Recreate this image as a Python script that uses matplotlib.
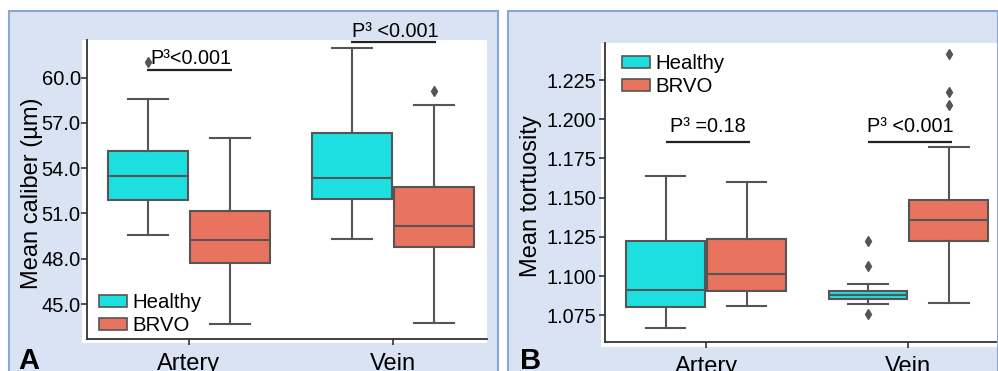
import matplotlib
matplotlib.use("Agg")
import matplotlib.pyplot as plt
from matplotlib.patches import Rectangle, Patch
import numpy as np

plt.rcParams['font.family'] = ['Liberation Sans', 'DejaVu Sans']

# ---------------- data ----------------
categories = ['Artery', 'Vein']
groups = ['Healthy', 'BRVO']

# Panel A: mean caliber (µm)
healthy_cal_whislo = [49.56, 49.29]
healthy_cal_q1 = [51.90, 51.96]
healthy_cal_med = [53.51, 53.37]
healthy_cal_q3 = [55.16, 56.36]
healthy_cal_whishi = [58.57, 61.99]
healthy_cal_fliers = [[61.02], []]

brvo_cal_whislo = [43.68, 43.72]
brvo_cal_q1 = [47.70, 48.76]
brvo_cal_med = [49.24, 50.19]
brvo_cal_q3 = [51.19, 52.74]
brvo_cal_whishi = [56.00, 58.17]
brvo_cal_fliers = [[], [59.14]]

# Panel B: mean tortuosity
healthy_tor_whislo = [1.0667, 1.0820]
healthy_tor_q1 = [1.0801, 1.0852]
healthy_tor_med = [1.0913, 1.0882]
healthy_tor_q3 = [1.1222, 1.0907]
healthy_tor_whishi = [1.1638, 1.0950]
healthy_tor_fliers = [[], [1.1226, 1.1066, 1.0758]]

brvo_tor_whislo = [1.0811, 1.0831]
brvo_tor_q1 = [1.0907, 1.1222]
brvo_tor_med = [1.1013, 1.1356]
brvo_tor_q3 = [1.1237, 1.1485]
brvo_tor_whishi = [1.1598, 1.1825]
brvo_tor_fliers = [[], [1.2418, 1.2172, 1.2093]]

# significance annotations
p_text_a = ['P\u00b3<0.001', 'P\u00b3 <0.001']
p_line_a = [60.51, 62.35]
p_text_b = ['P\u00b3 =0.18', 'P\u00b3 <0.001']
p_line_b = [1.1855, 1.1855]

yticks_a = [45.0, 48.0, 51.0, 54.0, 57.0, 60.0]
yticks_b = [1.075, 1.100, 1.125, 1.150, 1.175, 1.200, 1.225]

# ---------------- style ----------------
C_HEALTHY = '#1EDFDF'
C_BRVO = '#E8735F'
C_LINE = '#555555'
C_SPINE = '#333333'
C_BG = '#DAE3F3'
C_BORDER = '#8AA5D6'

W, H = 998, 371
fig = plt.figure(figsize=(W / 100, H / 100), dpi=100)
fig.patch.set_facecolor('white')


def px_rect(x0, y0, x1, y1, **kw):
    return Rectangle((x0 / W, 1 - y1 / H), (x1 - x0) / W, (y1 - y0) / H,
                     transform=fig.transFigure, **kw)


# panel backgrounds
fig.patches.append(px_rect(9, 11, 497.5, 380, facecolor=C_BG, edgecolor=C_BORDER, lw=1.5, zorder=-3))
fig.patches.append(px_rect(508, 11, 997.5, 380, facecolor=C_BG, edgecolor=C_BORDER, lw=1.5, zorder=-3))
# white plotting areas
fig.patches.append(px_rect(82, 40, 487, 343, facecolor='white', edgecolor='none', zorder=-2))
fig.patches.append(px_rect(601, 42.7, 996.5, 346.7, facecolor='white', edgecolor='none', zorder=-2))


def make_axes(x0, y0, x1, y1):
    ax = fig.add_axes([x0 / W, 1 - y1 / H, (x1 - x0) / W, (y1 - y0) / H])
    ax.set_facecolor('none')
    for s in ['top', 'right']:
        ax.spines[s].set_visible(False)
    for s in ['left', 'bottom']:
        ax.spines[s].set_color(C_SPINE)
        ax.spines[s].set_linewidth(1.3)
    return ax


def stats_list(whislo, q1, med, q3, whishi, fliers):
    return [dict(whislo=whislo[i], q1=q1[i], med=med[i], q3=q3[i],
                 whishi=whishi[i], fliers=fliers[i]) for i in range(len(whislo))]


def draw_boxes(ax, stats, positions, color):
    ax.bxp(stats, positions=positions, widths=0.39, patch_artist=True,
           showfliers=True,
           boxprops=dict(facecolor=color, edgecolor=C_LINE, linewidth=1.5),
           medianprops=dict(color=C_LINE, linewidth=1.5),
           whiskerprops=dict(color=C_LINE, linewidth=1.5),
           capprops=dict(color=C_LINE, linewidth=1.5),
           flierprops=dict(marker='d', markerfacecolor=C_LINE, markeredgecolor=C_LINE,
                           markersize=5, linestyle='none'),
           manage_ticks=False)


def add_legend(ax, x_px, y_px):
    return ax.legend(handles=[Patch(facecolor=C_HEALTHY, edgecolor=C_LINE, lw=1.2, label=groups[0]),
                              Patch(facecolor=C_BRVO, edgecolor=C_LINE, lw=1.2, label=groups[1])],
                     loc='upper left', bbox_to_anchor=(x_px / W, 1 - y_px / H),
                     bbox_transform=fig.transFigure, frameon=False, fontsize=14.7,
                     borderpad=0, borderaxespad=0, handlelength=1.35, handleheight=0.55,
                     handletextpad=0.3, labelspacing=0.22)


x = np.arange(len(categories))
off = 0.2

# ---------- Panel A ----------
axA = make_axes(87, 40, 487, 339)
draw_boxes(axA, stats_list(healthy_cal_whislo, healthy_cal_q1, healthy_cal_med,
                           healthy_cal_q3, healthy_cal_whishi, healthy_cal_fliers), x - off, C_HEALTHY)
draw_boxes(axA, stats_list(brvo_cal_whislo, brvo_cal_q1, brvo_cal_med,
                           brvo_cal_q3, brvo_cal_whishi, brvo_cal_fliers), x + off, C_BRVO)
axA.set_xlim(-0.5, 1.461)
axA.set_ylim(42.68, 62.50)
axA.set_yticks(yticks_a)
axA.set_yticklabels([f'{v:.1f}' for v in yticks_a])
axA.set_xticks(x)
axA.set_xticklabels(categories)
axA.tick_params(axis='y', labelsize=14.5, length=4, width=1.2, color=C_SPINE, pad=0.5)
axA.tick_params(axis='x', labelsize=17, length=4, width=1.2, color=C_SPINE, pad=6)
axA.set_ylabel('Mean caliber (\u00b5m)', fontsize=17)
axA.yaxis.set_label_coords(-0.111, 0.487)

for i in range(len(categories)):
    axA.plot([x[i] - 0.205, x[i] + 0.21], [p_line_a[i]] * 2, color='#222222', lw=1.6,
             clip_on=False, solid_capstyle='butt')
    axA.annotate(p_text_a[i], (x[i] + 0.01, p_line_a[i]), xytext=(0, 4),
                 textcoords='offset points', ha='center', va='baseline',
                 fontsize=14.3, annotation_clip=False)

add_legend(axA, 99, 293)

# ---------- Panel B ----------
axB = make_axes(605, 42.7, 996, 342.3)
draw_boxes(axB, stats_list(healthy_tor_whislo, healthy_tor_q1, healthy_tor_med,
                           healthy_tor_q3, healthy_tor_whishi, healthy_tor_fliers), x - off, C_HEALTHY)
draw_boxes(axB, stats_list(brvo_tor_whislo, brvo_tor_q1, brvo_tor_med,
                           brvo_tor_q3, brvo_tor_whishi, brvo_tor_fliers), x + off, C_BRVO)
axB.set_xlim(-0.5, 1.433)
axB.set_ylim(1.0578, 1.2488)
axB.set_yticks(yticks_b)
axB.set_yticklabels([f'{v:.3f}' for v in yticks_b])
axB.set_xticks(x)
axB.set_xticklabels(categories)
axB.tick_params(axis='y', labelsize=14.3, length=4, width=1.2, color=C_SPINE, pad=2.5)
axB.tick_params(axis='x', labelsize=17, length=4, width=1.2, color=C_SPINE, pad=6)
axB.set_ylabel('Mean tortuosity', fontsize=17)
axB.yaxis.set_label_coords(-0.161, 0.488)

for i in range(len(categories)):
    axB.plot([x[i] - 0.2, x[i] + 0.217], [p_line_b[i]] * 2, color='#222222', lw=1.6,
             clip_on=False, solid_capstyle='butt')
    axB.annotate(p_text_b[i], (x[i] + 0.01, p_line_b[i]), xytext=(0, 7),
                 textcoords='offset points', ha='center', va='baseline',
                 fontsize=14.3, annotation_clip=False)

add_legend(axB, 622, 54)

# panel letters
fig.text(18 / W, 1 - 369 / H, 'A', fontsize=21, fontweight='bold', ha='left', va='baseline')
fig.text(520 / W, 1 - 369 / H, 'B', fontsize=21, fontweight='bold', ha='left', va='baseline')

fig.savefig('out.png', dpi=100)
